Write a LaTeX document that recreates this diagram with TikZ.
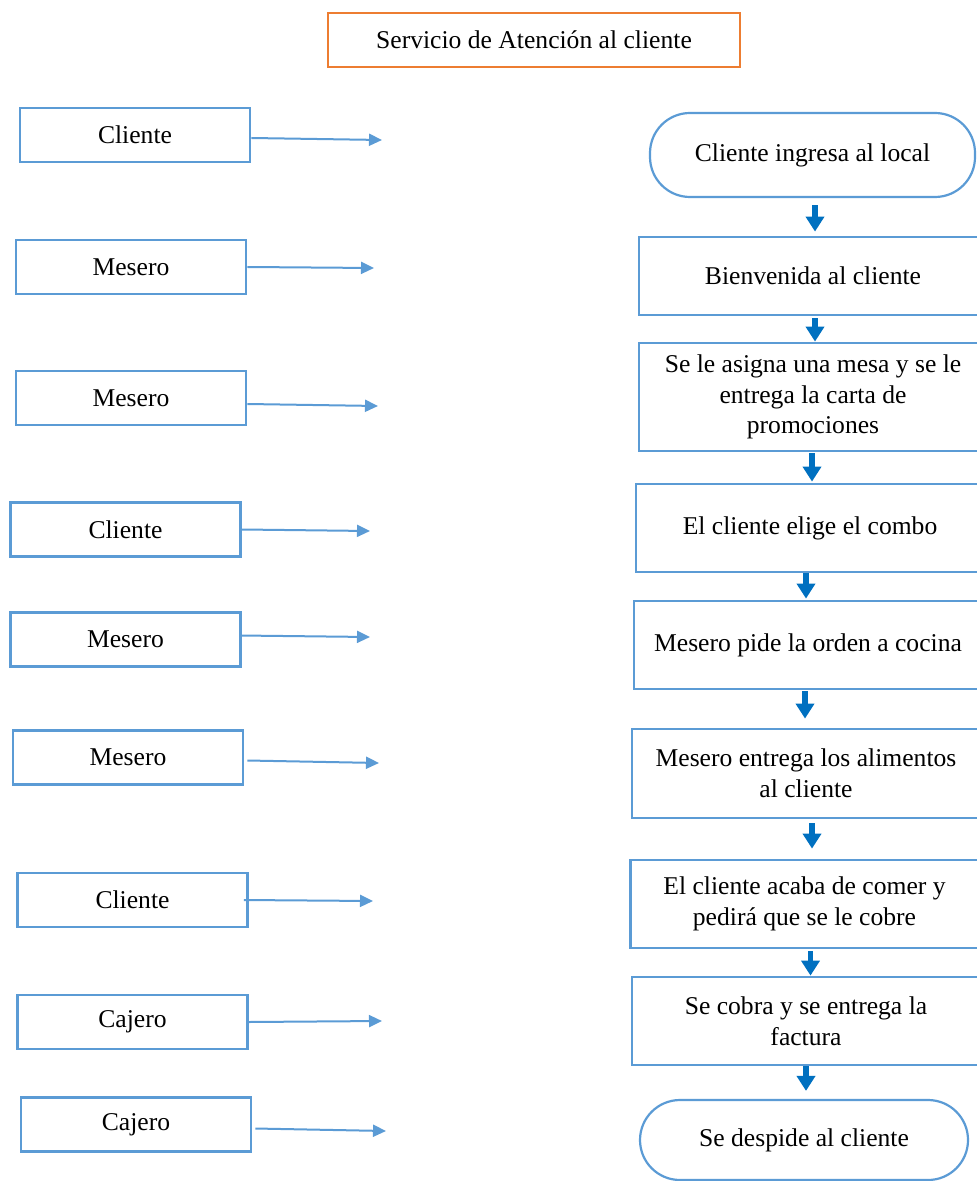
\documentclass[tikz,border=0pt]{standalone}
\usepackage{fontspec}
\setmainfont{Liberation Serif}
\usetikzlibrary{arrows.meta}
\definecolor{boxblue}{HTML}{5B9BD5}
\definecolor{flowblue}{HTML}{0070C0}
\definecolor{titleorange}{HTML}{ED7D31}
\begin{document}
\begin{tikzpicture}[x=0.5pt,y=-0.5pt,
  every node/.style={font=\fontsize{12.8}{15.3}\selectfont, align=center, inner sep=0pt},
  titlebox/.style={draw=titleorange, line width=1pt, minimum width=206pt, minimum height=27pt},
  rolebox/.style={draw=boxblue, line width=1.3pt, minimum width=115pt, minimum height=27pt},
  stepbox/.style={draw=boxblue, line width=1.4pt, minimum width=174pt},
  endbox/.style={draw=boxblue, line width=1.1pt, rounded corners=20pt},
  rolearrow/.style={draw=boxblue, line width=1pt, -{Triangle[length=6.5pt,width=6pt]}},
  flowarrow/.style={draw=flowblue, line width=2.6pt, -{Triangle[length=7.5pt,width=9pt]}}
]
\useasboundingbox (0,0) rectangle (977,1181);

% title
\node[titlebox] (title) at (534,40) {Servicio de Atención al cliente};

% roles on the left
\node[rolebox] (L1) at (135,135)    {Cliente};
\node[rolebox] (L2) at (131,267)    {Mesero};
\node[rolebox] (L3) at (131,398)    {Mesero};
\node[rolebox] (L4) at (125.5,529.5) {Cliente};
\node[rolebox] (L5) at (125.5,639.5) {Mesero};
\node[rolebox] (L6) at (128,757.5)  {Mesero};
\node[rolebox] (L7) at (132.5,900)  {Cliente};
\node[rolebox] (L8) at (132.5,1022) {Cajero};
\node[rolebox] (L9) at (136,1124.5) {Cajero};

% free ends of the role arrows
\coordinate (a1) at (382,140);
\coordinate (a2) at (374,268);
\coordinate (a3) at (378,406);
\coordinate (a4) at (370,531);
\coordinate (a5) at (370,637);
\coordinate (a6) at (379,763);
\coordinate (a7) at (373,901);
\coordinate (a8) at (382,1021);
\coordinate (a9) at (386,1131);

\draw[rolearrow] ([yshift=-1.5pt]L1.east) -- (a1);
\draw[rolearrow] (L2.east) -- (a2);
\draw[rolearrow] ([yshift=-3pt]L3.east) -- (a3);
\draw[rolearrow] (L4.east) -- (a4);
\draw[rolearrow] ([xshift=-1pt,yshift=2pt]L5.east) -- (a5);
\draw[rolearrow] ([xshift=1.5pt,yshift=-1.5pt]L6.east) -- (a6);
\draw[rolearrow] ([xshift=-2.5pt]L7.east) -- (a7);
\draw[rolearrow] (L8.east) -- (a8);
\draw[rolearrow] ([xshift=1.5pt,yshift=-2pt]L9.east) -- (a9);

% process steps on the right
\node[endbox, minimum width=162.5pt, minimum height=42pt] (T1) at (812.5,155) {Cliente ingresa al local};
\node[stepbox, minimum height=39pt] (R2) at (813,276) {Bienvenida al cliente};
\node[stepbox, minimum height=54pt] (R3) at (813,397) {Se le asigna una mesa y se le\\entrega la carta de\\promociones};
\node[stepbox, minimum height=44pt] (R4) at (810,528) {El cliente elige el combo};
\node[stepbox, minimum height=44pt] (R5) at (808,645) {Mesero pide la orden a cocina};
\node[stepbox, minimum height=44.5pt] (R6) at (806,773.5) {Mesero entrega los alimentos\\al cliente};
\node[stepbox, minimum height=44pt] (R7) at (804.5,904) {El cliente acaba de comer y\\pedirá que se le cobre};
\node[stepbox, minimum height=44pt] (R8) at (806,1021) {Se cobra y se entrega la\\factura};
\node[endbox, minimum width=164pt, minimum height=40pt] (T2) at (804,1140) {Se despide al cliente};

% flow between the steps
\draw[flowarrow, shorten <=3.5pt, shorten >=2pt] ([xshift=1.25pt]T1.south) -- ([xshift=1.25pt]T1.south |- R2.north);
\draw[flowarrow, shorten <=1pt] ([xshift=1pt]R2.south) -- ([xshift=1pt]R2.south |- R3.north);
\draw[flowarrow, shorten <=0.5pt, shorten >=0.5pt] ([xshift=-0.5pt]R3.south) -- ([xshift=-0.5pt]R3.south |- R4.north);
\draw[flowarrow, shorten >=0.5pt] ([xshift=-2pt]R4.south) -- ([xshift=-2pt]R4.south |- R5.north);
\draw[flowarrow, shorten <=0.5pt, shorten >=4.5pt] ([xshift=-1.5pt]R5.south) -- ([xshift=-1.5pt]R5.south |- R6.north);
\draw[flowarrow, shorten <=2pt, shorten >=5pt] ([xshift=3pt]R6.south) -- ([xshift=3pt]R6.south |- R7.north);
\draw[flowarrow, shorten <=1pt] ([xshift=3pt]R7.south) -- ([xshift=3pt]R7.south |- R8.north);
\draw[flowarrow, shorten >=4pt] (R8.south) -- (R8.south |- T2.north);
\end{tikzpicture}
\end{document}
